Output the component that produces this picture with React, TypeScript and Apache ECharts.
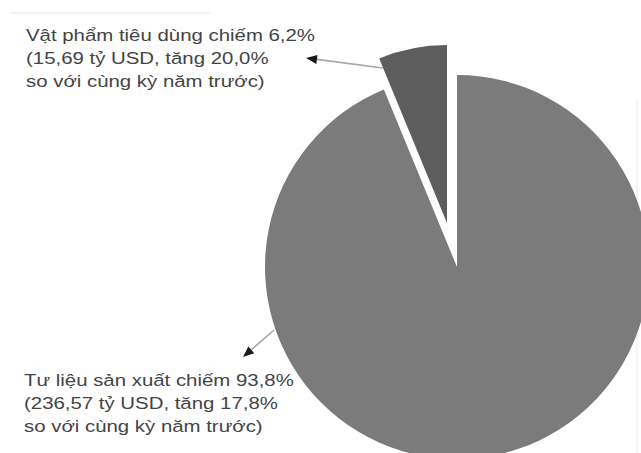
import React, { useEffect, useRef } from "react";
import * as echarts from "echarts";

const categories = ["Tư liệu sản xuất", "Vật phẩm tiêu dùng"];
const valuesBillionUSD = [236.57, 15.69];
const shares = ["93,8%", "6,2%"];
const valueLabels = ["236,57", "15,69"];
const growth = ["17,8%", "20,0%"];
const colors = ["#7b7b7b", "#5d5d5d"];

function labelText(i: number) {
  return (
    categories[i] + " chiếm " + shares[i] + "\n(" + valueLabels[i] + " tỷ USD, tăng " + growth[i] + "\nso với cùng kỳ năm trước)"
  );
}

function arrow(x1: number, y1: number, x2: number, y2: number) {
  const dx = x2 - x1;
  const dy = y2 - y1;
  const len = Math.sqrt(dx * dx + dy * dy);
  const ux = dx / len;
  const uy = dy / len;
  const hl = 11;
  const hw = 4.5;
  const bx = x2 - ux * hl;
  const by = y2 - uy * hl;
  return [
    {
      type: "line",
      shape: { x1, y1, x2: bx, y2: by },
      style: { stroke: "#a8a8a8", lineWidth: 1.6 },
      silent: true,
    },
    {
      type: "polygon",
      shape: {
        points: [
          [x2, y2],
          [bx - uy * hw, by + ux * hw],
          [bx + uy * hw, by - ux * hw],
        ],
      },
      style: { fill: "#1a1a1a" },
      silent: true,
    },
  ];
}

export default function App() {
  const ref = useRef<HTMLDivElement>(null);
  useEffect(() => {
    if (!ref.current) return;
    const chart = echarts.init(ref.current, null, { renderer: "svg" });
    const textStyle = {
      font: '17px "Liberation Sans", Arial, sans-serif',
      fill: "#444444",
      lineHeight: 23,
      verticalAlign: "top",
      align: "left",
    };
    chart.setOption({
      animation: false,
      backgroundColor: "#ffffff",
      series: [
        {
          type: "pie",
          center: [457, 267],
          radius: 192,
          silent: true,
          label: { show: false },
          labelLine: { show: false },
          emphasis: { disabled: true },
          data: [
            { name: categories[0], value: valuesBillionUSD[0], itemStyle: { color: colors[0] } },
            { name: categories[1], value: valuesBillionUSD[1], itemStyle: { color: "rgba(0,0,0,0)" } },
          ],
        },
        {
          type: "pie",
          center: [447, 223],
          radius: 178,
          silent: true,
          label: { show: false },
          labelLine: { show: false },
          emphasis: { disabled: true },
          data: [
            { name: categories[0], value: valuesBillionUSD[0], itemStyle: { color: "rgba(0,0,0,0)" } },
            { name: categories[1], value: valuesBillionUSD[1], itemStyle: { color: colors[1] } },
          ],
        },
      ],
      graphic: [
        {
          type: "line",
          shape: { x1: 10, y1: 13, x2: 210, y2: 13 },
          style: { stroke: "#e6e6e6", lineWidth: 1 },
          silent: true,
        },
        {
          type: "line",
          shape: { x1: 637, y1: 100, x2: 637, y2: 453 },
          style: { stroke: "#ececec", lineWidth: 1 },
          silent: true,
        },
        {
          type: "text",
          x: 26,
          y: 24,
          scaleX: 1.2,
          style: { ...textStyle, text: labelText(1) },
          silent: true,
        },
        {
          type: "text",
          x: 24,
          y: 369,
          scaleX: 1.2,
          style: { ...textStyle, text: labelText(0) },
          silent: true,
        },
        ...arrow(383, 68, 306, 58),
        ...arrow(274, 330, 243, 357),
      ],
    });
    return () => chart.dispose();
  }, []);
  return <div ref={ref} style={{ width: 641, height: 453, position: "absolute", left: 0, top: 0 }} />;
}
